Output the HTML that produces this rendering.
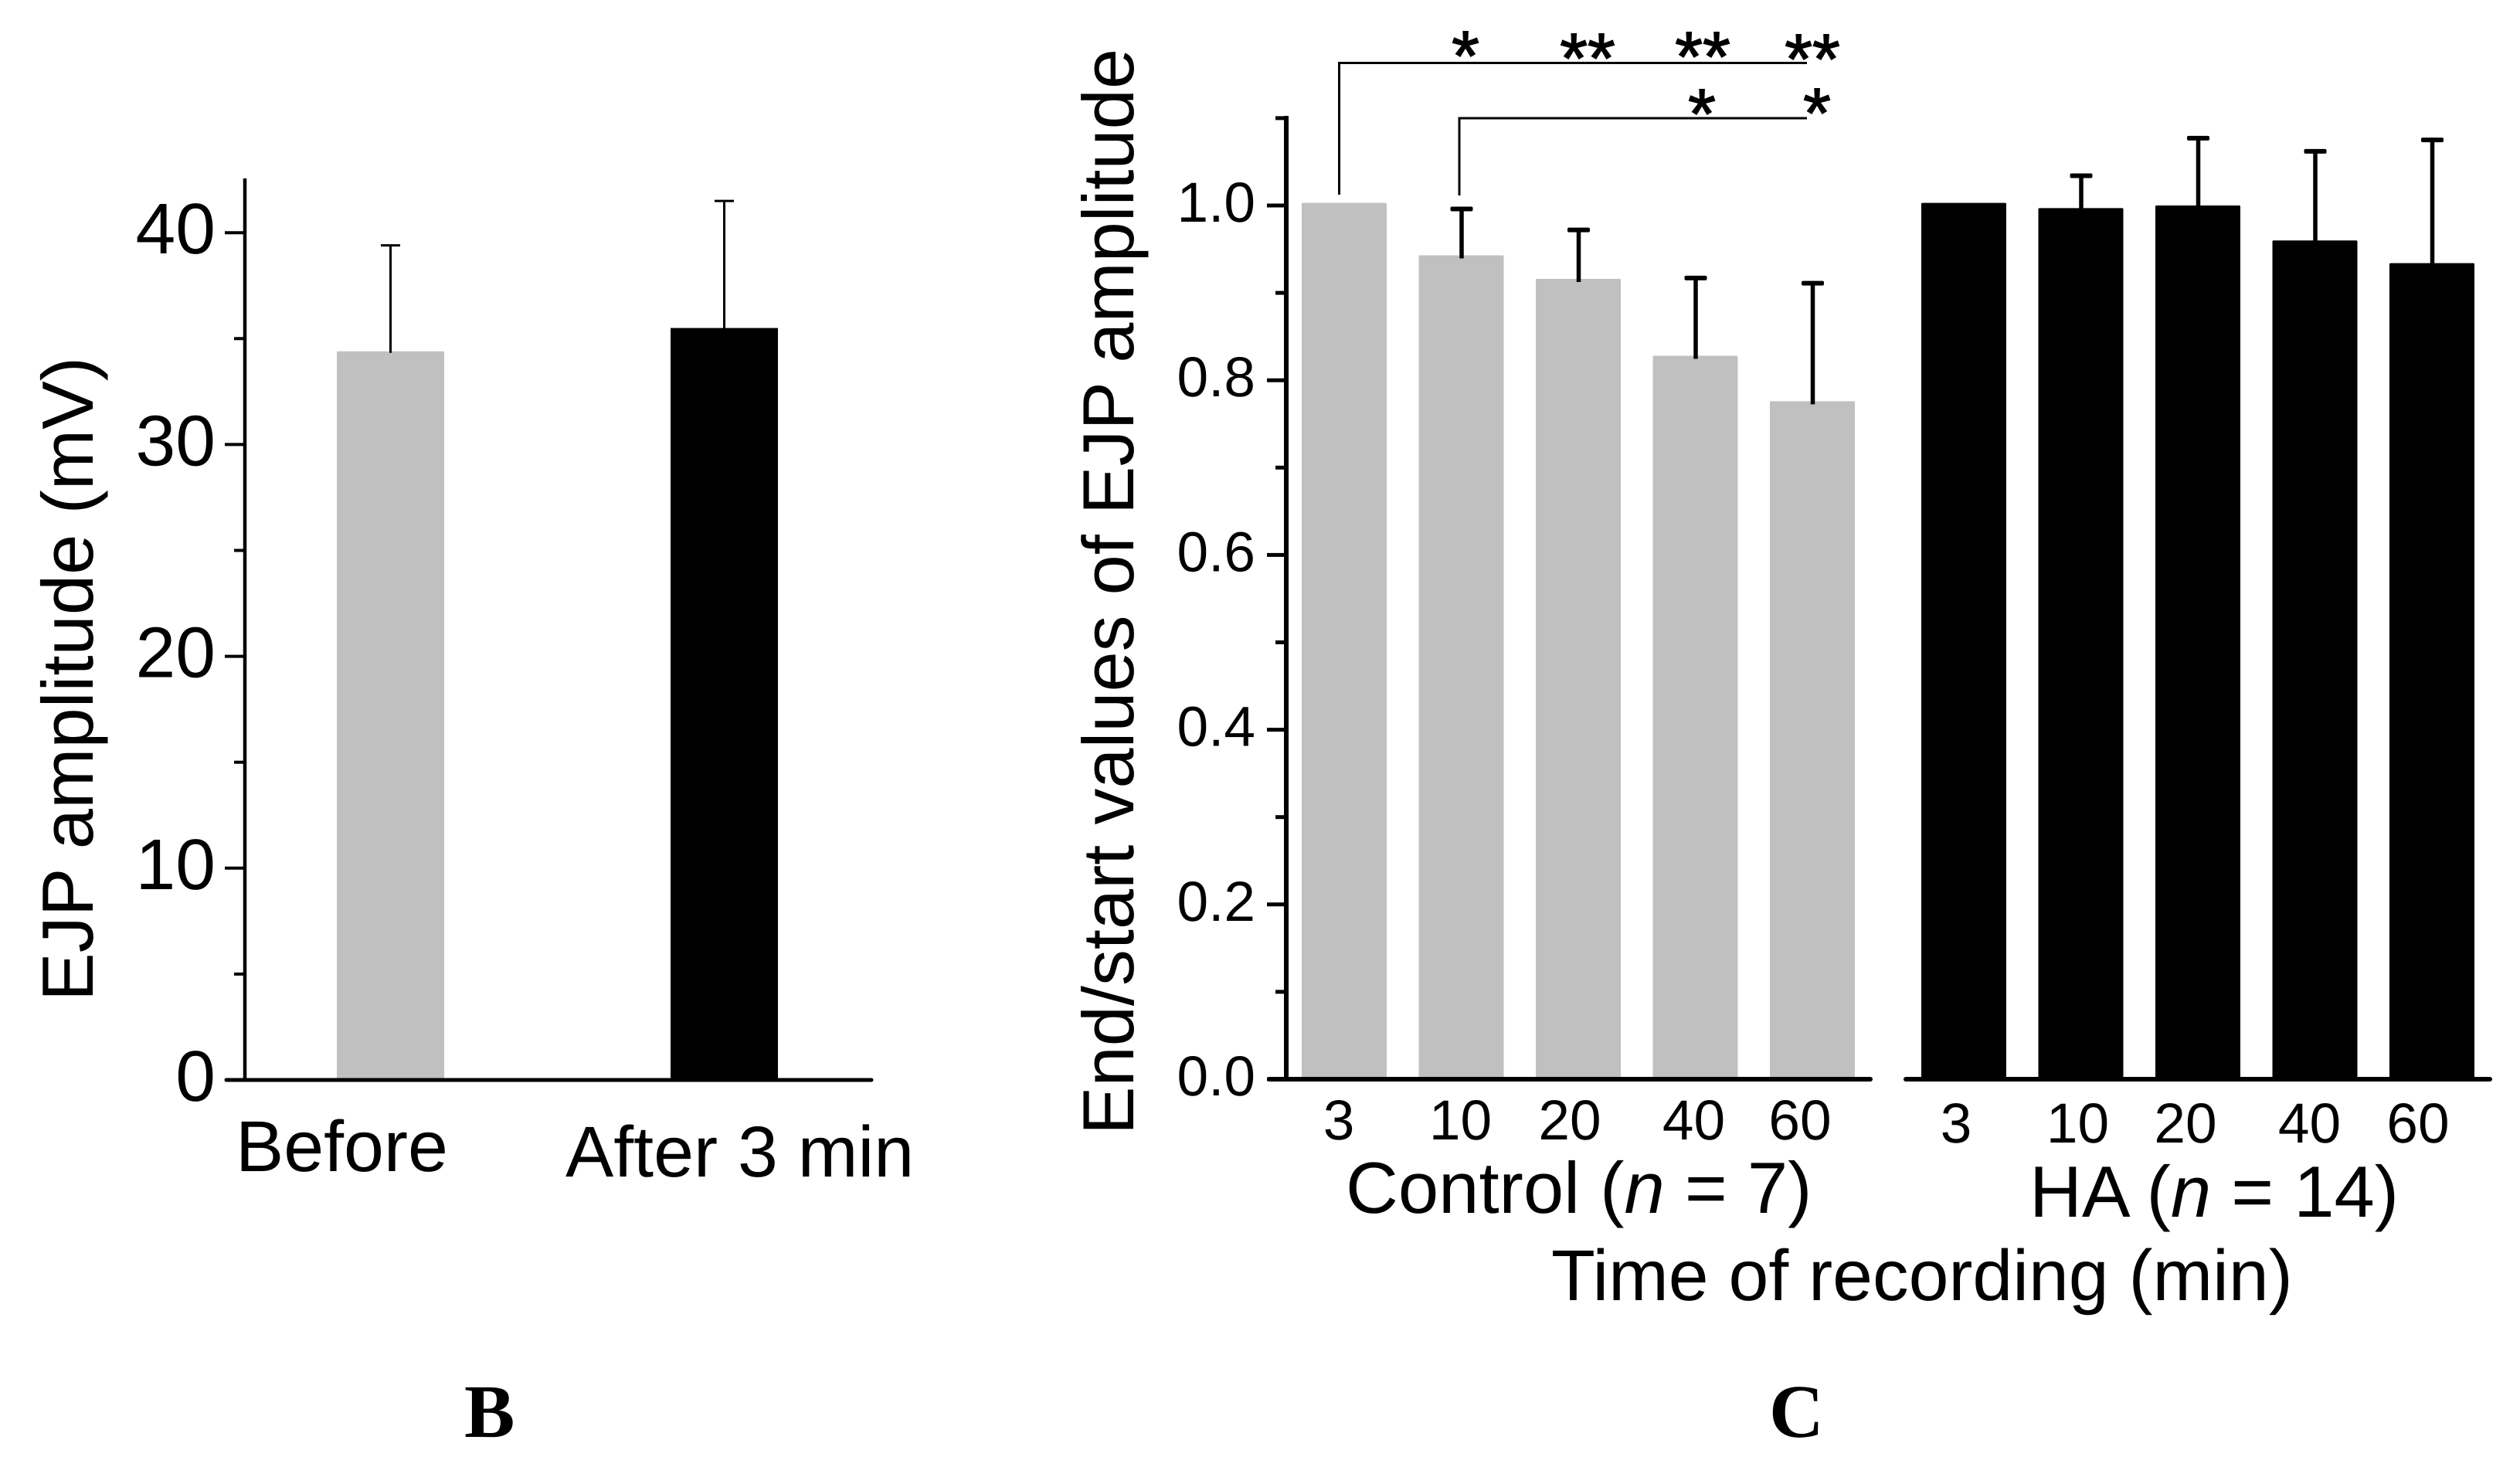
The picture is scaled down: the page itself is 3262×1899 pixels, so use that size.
<!DOCTYPE html>
<html lang="en">
<head>
<meta charset="utf-8">
<title>EJP amplitude bar charts</title>
<style>
html,body{margin:0;padding:0;background:#fff;width:3262px;height:1899px;overflow:hidden}
svg{display:block}
text{font-family:"Liberation Sans",sans-serif;fill:#000;text-rendering:geometricPrecision}
.panel{font-family:"Liberation Serif",serif;font-weight:bold;font-size:98px}
</style>
</head>
<body>
<svg id="chart" xmlns="http://www.w3.org/2000/svg" width="3262" height="1899" viewBox="0 0 3262 1899">
  <rect x="0" y="0" width="3262" height="1899" fill="#fff"/>
  <g id="panelB"></g>
  <g id="panelC"></g>

  <text font-size="94" transform="translate(120,1296) rotate(-90)">EJP amplitude (mV)</text>
  <text class="panel" x="601" y="1860">B</text>

  <text font-size="93.8" transform="translate(1467,1469) rotate(-90)">End/start values of EJP amplitude</text>
  <text font-size="94" x="1742" y="1570">Control (<tspan font-style="italic">n</tspan> = 7)</text>
  <text font-size="94" x="2627" y="1575">HA (<tspan font-style="italic">n</tspan> = 14)</text>
  <text font-size="93.2" x="2008" y="1683">Time of recording (min)</text>
  <text class="panel" x="2290" y="1860">C</text>

  <g fill="none" stroke="#000" stroke-width="3">
    <path d="M1733.5 252V81.5H2339"/>
    <path d="M1889 253V153H2339"/>
  </g>
  <g font-size="92" stroke="#000" stroke-width="1.5">
    <text text-anchor="middle" x="1897" y="104">*</text>
    <text text-anchor="middle" x="2055" y="107">**</text>
    <text text-anchor="middle" x="2204" y="105">**</text>
    <text text-anchor="middle" x="2346" y="108">**</text>
    <text text-anchor="middle" x="2203" y="179">*</text>
    <text text-anchor="middle" x="2352" y="178">*</text>
  </g>
</svg>
<script>
// Panel B data
const beforeAfterCategories = ['Before', 'After 3 min'];
const beforeAfterValues = [34.4, 35.5];
const beforeAfterErrorTops = [39.4, 41.5];
const beforeAfterYTicks = [0, 10, 20, 30, 40];
const beforeAfterYMinorTicks = [5, 15, 25, 35];

// Panel C data
const timeCategories = ['3', '10', '20', '40', '60'];
const controlValues = [1.003, 0.943, 0.916, 0.828, 0.776];
const controlErrorTops = [null, 0.996, 0.972, 0.917, 0.911];
const haValues = [1.003, 0.997, 1.0, 0.96, 0.934];
const haErrorTops = [null, 1.034, 1.077, 1.062, 1.075];
const ratioYTicks = ['0.0', '0.2', '0.4', '0.6', '0.8', '1.0'];
const ratioYMinorTicks = [0.1, 0.3, 0.5, 0.7, 0.9, 1.1];

const SVGNS = 'http://www.w3.org/2000/svg';
function make(tag, parent, attrs, text) {
  const el = document.createElementNS(SVGNS, tag);
  for (const k in attrs) el.setAttribute(k, attrs[k]);
  if (text !== undefined) el.textContent = text;
  parent.appendChild(el);
  return el;
}

// ---------- Panel B ----------
const gB = document.getElementById('panelB');
const yB = v => 1398 - 27.42 * v;
const xB = i => 505.5 + i * 432;
const colorsB = ['#c0c0c0', '#000'];
const labelBX = [305, 732];
const labelBY = [1516, 1523];

beforeAfterValues.forEach((v, i) => {
  const bar = make('rect', gB, { x: xB(i) - 69.5, y: yB(v), width: 139, height: yB(0) - yB(v), fill: colorsB[i] });
  
  
  const stem = make('line', gB, { x1: xB(i), x2: xB(i), y1: yB(v) + 2, y2: yB(beforeAfterErrorTops[i]), stroke: '#000', 'stroke-width': 3 });
  
  
  const cap = make('line', gB, { x1: xB(i) - 12.5, x2: xB(i) + 12.5, y1: yB(beforeAfterErrorTops[i]), y2: yB(beforeAfterErrorTops[i]), stroke: '#000', 'stroke-width': 3 });
  
  
  const lab = make('text', gB, { x: labelBX[i], y: labelBY[i], 'font-size': 93.3 }, beforeAfterCategories[i]);
  
  
});

const axisBY = make('line', gB, { x1: 317, x2: 317, y1: 231, y2: yB(0), stroke: '#000', 'stroke-width': 4.5 });


const axisBX = make('line', gB, { x1: 293, x2: 1128, y1: yB(0), y2: yB(0), stroke: '#000', 'stroke-width': 5, 'stroke-linecap': 'round' });



beforeAfterYTicks.forEach(v => {
  const t = make('line', gB, { x1: 291, x2: 317, y1: yB(v), y2: yB(v), stroke: '#000', 'stroke-width': 4 });
  
  
  const lab = make('text', gB, { x: 279, y: yB(v) + 27, 'font-size': 93, 'text-anchor': 'end' }, String(v));
  
  
});
beforeAfterYMinorTicks.forEach(v => {
  const t = make('line', gB, { x1: 303, x2: 317, y1: yB(v), y2: yB(v), stroke: '#000', 'stroke-width': 4 });
  
  
});

// ---------- Panel C ----------
const gC = document.getElementById('panelC');
const yC = v => 1397 - 1131 * v;
const xControl = i => 1740 + i * 151.5;
const xHA = i => 2542 + i * 151.5;
const controlLabelNudge = [-7, -1, -11, -2, -16];
const haLabelNudge = [-10, -4, -16, -7, -18];

function drawSeries(values, tops, xFn, fill, prefix, nudges, labelBase) {
  values.forEach((v, i) => {
    const bar = make('rect', gC, { x: xFn(i) - 55, y: yC(v), width: 110, height: yC(0) - yC(v), fill: fill, rx: 1.5 });
    
    
    if (tops[i] !== null) {
      const stem = make('line', gC, { x1: xFn(i) + 0.5, x2: xFn(i) + 0.5, y1: yC(v) + 4, y2: yC(tops[i]), stroke: '#000', 'stroke-width': 5.5 });
      
      
      const cap = make('rect', gC, { x: xFn(i) - 14, y: yC(tops[i]) - 3, width: 29, height: 6, rx: 2, fill: '#000' });
      
      
    }
    const lab = make('text', gC, { x: xFn(i) + nudges[i], y: labelBase, 'font-size': 73, 'text-anchor': 'middle' }, timeCategories[i]);
    
    
  });
}
drawSeries(controlValues, controlErrorTops, xControl, '#c0c0c0', 'control', controlLabelNudge, 1475);
drawSeries(haValues, haErrorTops, xHA, '#000', 'ha', haLabelNudge, 1479);

const axisCY = make('line', gC, { x1: 1665, x2: 1665, y1: 150, y2: yC(0), stroke: '#000', 'stroke-width': 6 });


const axisCX1 = make('line', gC, { x1: 1643, x2: 2421, y1: yC(0), y2: yC(0), stroke: '#000', 'stroke-width': 6, 'stroke-linecap': 'round' });


const axisCX2 = make('line', gC, { x1: 2467, x2: 3223, y1: yC(0), y2: yC(0), stroke: '#000', 'stroke-width': 6, 'stroke-linecap': 'round' });



ratioYTicks.forEach(s => {
  const v = parseFloat(s);
  const t = make('line', gC, { x1: 1640, x2: 1665, y1: yC(v), y2: yC(v), stroke: '#000', 'stroke-width': 5 });
  
  
  const lab = make('text', gC, { x: 1625, y: yC(v) + 21, 'font-size': 73, 'text-anchor': 'end' }, s);
  
  
});
ratioYMinorTicks.forEach(v => {
  const t = make('line', gC, { x1: 1651, x2: 1665, y1: yC(v), y2: yC(v), stroke: '#000', 'stroke-width': 5 });
  
  
});
</script>
</body>
</html>
